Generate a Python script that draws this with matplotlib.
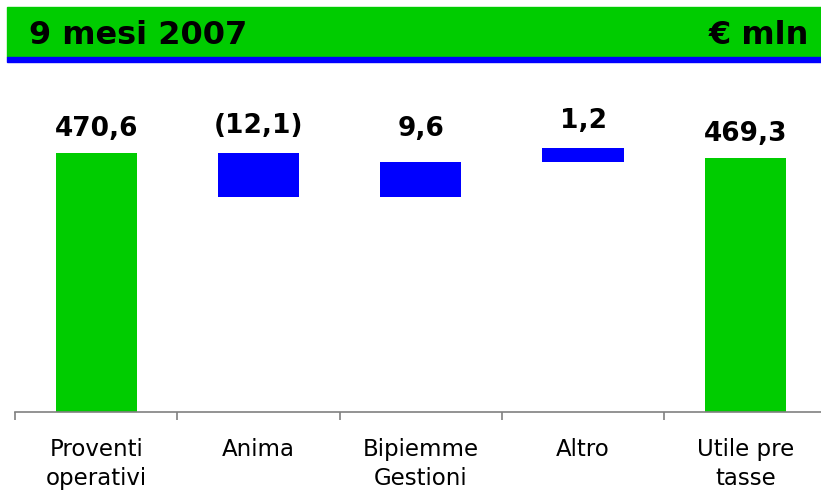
import matplotlib
matplotlib.use("Agg")
import matplotlib.pyplot as plt
from matplotlib.patches import Rectangle

categories = ["Proventi\noperativi", "Anima", "Bipiemme\nGestioni", "Altro", "Utile pre\ntasse"]
value_labels = ["470,6", "(12,1)", "9,6", "1,2", "469,3"]
bar_bottoms = [0, 458.5, 458.5, 468.1, 0]
bar_tops = [470.6, 470.6, 468.1, 471.9, 469.3]
bar_kinds = ["total", "step", "step", "step", "total"]

GREEN = "#00CC00"
BLUE = "#0000FF"

W, H = 821, 492
fig = plt.figure(figsize=(W / 100, H / 100), dpi=100)

# header band
fig.patches.append(Rectangle((7 / W, 1 - 57 / H), 1 - 7 / W, 50 / H,
                             transform=fig.transFigure, color=GREEN, zorder=0))
fig.patches.append(Rectangle((7 / W, 1 - 62 / H), 1 - 7 / W, 5 / H,
                             transform=fig.transFigure, color=BLUE, zorder=0))
fig.text(29 / W, 1 - 35 / H, "9 mesi 2007", fontsize=23, fontweight="bold",
         ha="left", va="center", family="DejaVu Sans")
fig.text(809 / W, 1 - 35 / H, "€ mln", fontsize=23, fontweight="bold",
         ha="right", va="center", family="DejaVu Sans")

# axes run a bit past the right edge, like the original slide
ax = fig.add_axes([15 / W, (H - 411.7) / H, 811.5 / W, (411.7 - 70) / H])

x = range(len(categories))
heights = [t - b for t, b in zip(bar_tops, bar_bottoms)]
colors = [GREEN if k == "total" else BLUE for k in bar_kinds]
ax.bar(x, heights, bottom=bar_bottoms, width=0.5, color=colors)

offsets = [12, 14.5, 19, 14.5, 12]
for i, lab in enumerate(value_labels):
    ax.annotate(lab, (i, bar_tops[i]), xytext=(0, offsets[i]), textcoords="offset points",
                ha="center", va="baseline", fontsize=19, fontweight="bold")

ax.set_xlim(-0.5, 4.5)
ax.set_ylim(400.6, 492.95)

for s in ["top", "right", "left"]:
    ax.spines[s].set_visible(False)
ax.spines["bottom"].set_color("#808080")
ax.spines["bottom"].set_linewidth(1.2)
ax.set_yticks([])

ax.set_xticks(list(x))
ax.set_xticklabels(categories, fontsize=16.5, linespacing=1.35)
ax.set_xticks([i - 0.5 for i in range(len(categories) + 1)], minor=True)
ax.tick_params(axis="x", which="major", length=0, pad=19)
ax.tick_params(axis="x", which="minor", length=6, width=1.2, color="#808080")

fig.savefig("out.png", dpi=100)
